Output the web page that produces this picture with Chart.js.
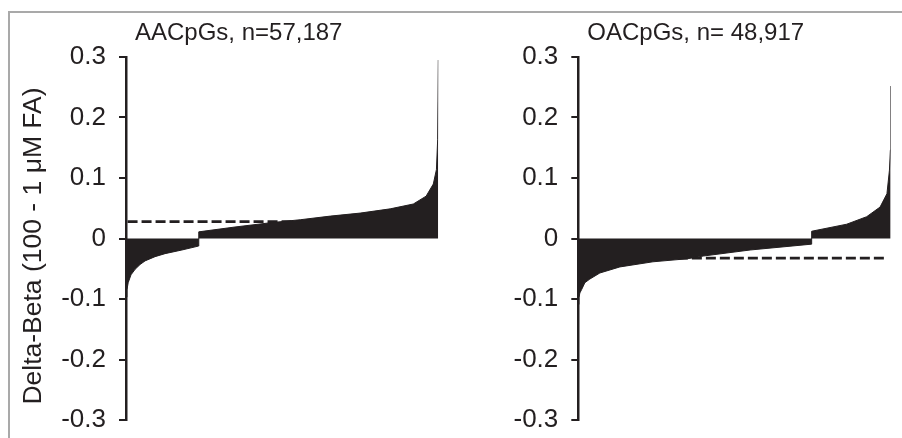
<!DOCTYPE html>
<html>
<head>
<meta charset="utf-8">
<script src="https://cdn.jsdelivr.net/npm/chart.js@4.4.0/dist/chart.umd.min.js"></script>
<style>
    body { margin: 0; background: #fff; }
    #wrap { position: relative; width: 902px; height: 438px; overflow: hidden; }
    #frame { position: absolute; left: 8px; top: 11px; width: 900px; height: 440px;
             border-top: 2px solid #a9a9a9; border-left: 2px solid #a9a9a9; }
    canvas { position: absolute; top: 0; }
</style>
</head>
<body>
<div id="wrap">
    <div id="frame"></div>
    <canvas id="myChart1" width="451" height="438" style="left:0"></canvas>
    <canvas id="myChart2" width="451" height="438" style="left:451px"></canvas>
</div>
<script>
// y axis ticks and labels
var yTicks = [0.3, 0.2, 0.1, 0, -0.1, -0.2, -0.3];
var yTitle = 'Delta-Beta (100 - 1 μM FA)';
var panelTitles = ['AACpGs, n=57,187', 'OACpGs, n= 48,917'];

// sorted delta-beta, x = rank in % of CpGs
var aacRank  = [0, 0.3, 0.7, 1.6, 2.9, 4.5, 6.1, 9.3, 12.5, 17.9, 23.2, 23.3, 34.9, 46.2, 55.8, 65.4, 75, 84.6, 92, 96.1, 98.4, 99.4, 99.8, 100];
var aacDelta = [-0.097, -0.085, -0.073, -0.06, -0.051, -0.043, -0.037, -0.030, -0.025, -0.019, -0.0125, 0.011, 0.019, 0.026, 0.031, 0.037, 0.042, 0.049, 0.057, 0.070, 0.090, 0.114, 0.164, 0.295];

var oacRank  = [0, 0.2, 0.5, 1.1, 2.1, 3.7, 6.9, 13.3, 23.9, 34.9, 40, 55, 74.6, 74.7, 85.9, 92.3, 96.6, 98.8, 99.6, 99.9, 100];
var oacDelta = [-0.109, -0.098, -0.09, -0.084, -0.073, -0.067, -0.057, -0.047, -0.0385, -0.0335, -0.029, -0.019, -0.0094, 0.012, 0.0236, 0.036, 0.052, 0.074, 0.113, 0.146, 0.252];

// mean lines (dashed)
var meanDelta = [0.028, -0.0326];
var meanRange = [0.5, 98.7];

var ink = '#231f20';
var fontFam = '"Liberation Sans", Arial, sans-serif';

function makePanel(id, rank, delta, mean, title, axisWidth, padRight, showYTitle) {
    var textPlugin = {
        id: 'panelText',
        afterDraw: function (chart) {
            var ctx = chart.ctx;
            ctx.save();
            ctx.fillStyle = ink;
            ctx.font = '24px ' + fontFam;
            ctx.textAlign = 'left';
            ctx.textBaseline = 'middle';
            ctx.fillText(title, chart.chartArea.left + 9, 33);
            if (showYTitle) {
                ctx.font = '26.5px ' + fontFam;
                ctx.translate(34, 246);
                ctx.rotate(-Math.PI / 2);
                ctx.textAlign = 'center';
                ctx.fillText(yTitle, 0, 0);
            }
            ctx.restore();
        }
    };

    var ctx = document.getElementById(id).getContext('2d');
    return new Chart(ctx, {
        type: 'line',
        data: {
            datasets: [{
                data: rank.map(function (r, i) { return { x: r, y: delta[i] }; }),
                fill: 'origin',
                backgroundColor: ink,
                borderColor: ink,
                borderWidth: 1,
                pointRadius: 0,
                tension: 0
            }, {
                data: [{ x: meanRange[0], y: mean }, { x: meanRange[1], y: mean }],
                fill: false,
                borderColor: ink,
                borderWidth: 2.8,
                borderDash: [10, 4],
                pointRadius: 0
            }]
        },
        options: {
            responsive: false,
            animation: false,
            events: [],
            layout: { padding: { top: 57, bottom: 18, left: 0, right: padRight } },
            plugins: { legend: { display: false }, tooltip: { enabled: false } },
            scales: {
                x: { type: 'linear', min: 0, max: 100, display: false },
                y: {
                    min: -0.3,
                    max: 0.3,
                    afterBuildTicks: function (s) {
                        s.ticks = yTicks.map(function (v) { return { value: v }; });
                    },
                    afterFit: function (s) {
                        s.width = axisWidth;
                        s.paddingTop = 0;
                        s.paddingBottom = 0;
                    },
                    grid: { drawOnChartArea: false, drawTicks: true, tickLength: 7, color: ink, lineWidth: 2 },
                    border: { display: true, color: ink, width: 2.5 },
                    ticks: {
                        padding: 13,
                        color: ink,
                        font: { family: fontFam, size: 26 },
                        callback: function (v) { return Math.abs(v) < 1e-9 ? '0' : v.toFixed(1); }
                    }
                }
            }
        },
        plugins: [textPlugin]
    });
}

makePanel('myChart1', aacRank, aacDelta, meanDelta[0], panelTitles[0], 126, 12.7, true);
makePanel('myChart2', oacRank, oacDelta, meanDelta[1], panelTitles[1], 127.3, 11.3, false);
</script>
</body>
</html>
